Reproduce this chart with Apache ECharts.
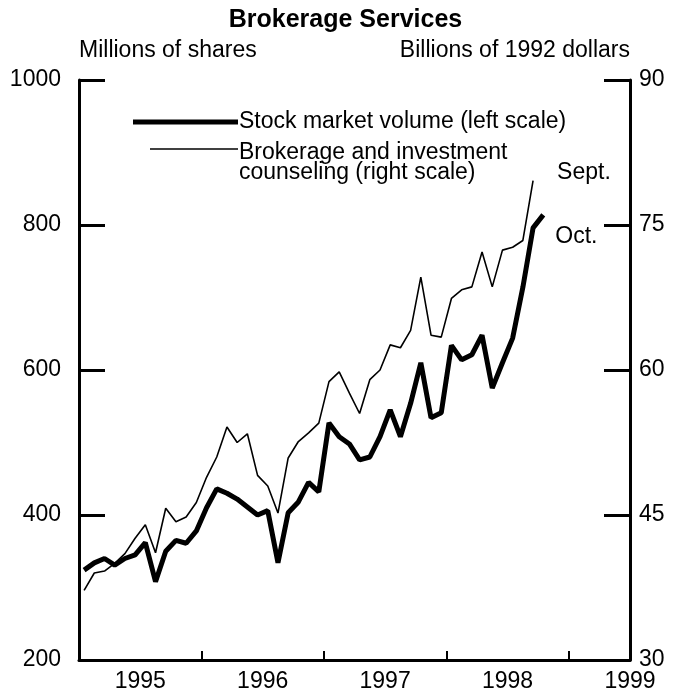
<!DOCTYPE html>
<html>
<head>
<meta charset="utf-8">
<script src="https://cdn.jsdelivr.net/npm/echarts@6/dist/echarts.min.js"></script>
<style>
  html, body { margin: 0; padding: 0; background: #fff; }
  #main { width: 691px; height: 699px; }
</style>
</head>
<body>
<div id="main"></div>
<script>
// monthly, Jan 1995 onward
const startYear = 1995;
// stock market volume, millions of shares (left scale), Jan 1995 - Oct 1998
const volume = [
  324, 334, 340, 331, 340, 345, 362, 308, 350, 365, 361, 378,
  410, 436, 430, 422, 411, 400, 406, 334, 403, 418, 445, 432,
  527, 508, 498, 476, 480, 508, 545, 508, 554, 610, 534, 541,
  634, 614, 621, 648, 575, 610, 644, 714, 796, 814
];
// brokerage and investment counseling, billions of 1992 dollars (right scale), Jan 1995 - Sep 1998
const brokerage = [
  37.2, 39.0, 39.2, 40.0, 41.0, 42.6, 44.0, 41.1, 45.7, 44.3, 44.8, 46.3,
  48.9, 51.0, 54.1, 52.5, 53.4, 49.1, 48.0, 45.2, 50.9, 52.6, 53.5, 54.5,
  58.8, 59.8, 57.6, 55.5, 59.0, 60.0, 62.6, 62.3, 64.1, 69.6, 63.6, 63.4,
  67.4, 68.3, 68.6, 72.2, 68.6, 72.4, 72.7, 73.4, 79.6
];
const leftTicks = [200, 1000, 200];   // min, max, step
const rightTicks = [30, 90, 15];
const yearRange = [1995, 1999.5];

const font = "'Liberation Sans', Arial, Helvetica, sans-serif";
const fs = 23;
// mid-month position on a decimal-year axis
const toPoints = arr => arr.map((v, i) => [startYear + (i + 0.5) / 12, v]);

const myChart = echarts.init(document.getElementById('main'));
const axisLine = { show: true, lineStyle: { color: '#000', width: 3 } };

const option = {
  backgroundColor: '#fff',
  animation: false,
  textStyle: { fontFamily: font, color: '#000' },
  title: {
    text: 'Brokerage Services',
    left: 'center',
    top: 3,
    textStyle: { fontFamily: font, fontSize: 25, fontWeight: 'bold', color: '#000' }
  },
  grid: { left: 79, right: 61, top: 80, bottom: 39 },
  xAxis: [
    {
      type: 'value',
      min: yearRange[0], max: yearRange[1], interval: 1,
      axisLine: axisLine,
      axisTick: { show: true, inside: true, length: 9, lineStyle: { color: '#000', width: 2 } },
      axisLabel: { show: false },
      splitLine: { show: false }
    },
    {
      type: 'value',
      position: 'bottom',
      min: yearRange[0], max: yearRange[1], interval: 0.5,
      axisLine: { show: false },
      axisTick: { show: false },
      splitLine: { show: false },
      axisLabel: {
        show: true, showMaxLabel: true, showMinLabel: false, margin: 10,
        fontFamily: font, fontSize: fs, color: '#000',
        formatter: v => (Math.abs(v % 1 - 0.5) < 1e-6 ? String(Math.floor(v)) : '')
      }
    }
  ],
  yAxis: [
    {
      type: 'value',
      name: 'Millions of shares',
      nameLocation: 'end',
      nameGap: 18,
      nameTextStyle: { fontFamily: font, fontSize: fs, color: '#000', align: 'left' },
      min: leftTicks[0], max: leftTicks[1], interval: leftTicks[2],
      axisLine: axisLine,
      axisTick: { show: true, inside: true, length: 26, lineStyle: { color: '#000', width: 3 } },
      axisLabel: { margin: 18, fontFamily: font, fontSize: fs, color: '#000', formatter: v => String(v) },
      splitLine: { show: false }
    },
    {
      type: 'value',
      position: 'right',
      name: 'Billions of 1992 dollars',
      nameLocation: 'end',
      nameGap: 18,
      nameTextStyle: { fontFamily: font, fontSize: fs, color: '#000', align: 'right' },
      min: rightTicks[0], max: rightTicks[1], interval: rightTicks[2],
      axisLine: axisLine,
      axisTick: { show: true, inside: true, length: 26, lineStyle: { color: '#000', width: 3 } },
      axisLabel: { margin: 9, fontFamily: font, fontSize: fs, color: '#000' },
      splitLine: { show: false }
    }
  ],
  series: [
    {
      name: 'Stock market volume (left scale)',
      type: 'line',
      xAxisIndex: 0,
      yAxisIndex: 0,
      data: toPoints(volume),
      showSymbol: false,
      lineStyle: { color: '#000', width: 5 },
      endLabel: {
        show: true, formatter: 'Oct.', offset: [4, 22],
        fontFamily: font, fontSize: fs, color: '#000'
      }
    },
    {
      name: 'Brokerage and investment counseling (right scale)',
      type: 'line',
      xAxisIndex: 0,
      yAxisIndex: 1,
      data: toPoints(brokerage),
      showSymbol: false,
      lineStyle: { color: '#000', width: 1.6 },
      endLabel: {
        show: true, formatter: 'Sept.', offset: [16, -8],
        fontFamily: font, fontSize: fs, color: '#000'
      }
    }
  ],
  graphic: [
    { type: 'line', shape: { x1: 133, y1: 122, x2: 238, y2: 122 }, style: { stroke: '#000', lineWidth: 5 } },
    { type: 'text', left: 239, top: 110, style: { text: 'Stock market volume (left scale)', font: fs + 'px ' + font, fill: '#000' } },
    { type: 'line', shape: { x1: 150, y1: 149, x2: 238, y2: 149 }, style: { stroke: '#000', lineWidth: 1.6 } },
    { type: 'text', left: 239, top: 141, style: { text: 'Brokerage and investment\ncounseling (right scale)', font: fs + 'px ' + font, lineHeight: 20, fill: '#000' } }
  ]
};

option && myChart.setOption(option);
</script>
</body>
</html>
